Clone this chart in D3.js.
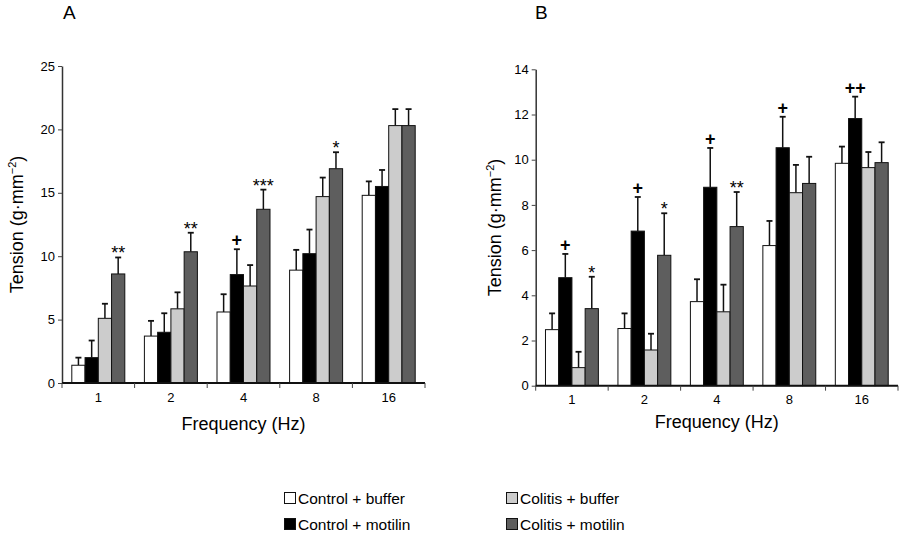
<!DOCTYPE html>
<html>
<head>
<meta charset="utf-8">
<script src="https://cdn.jsdelivr.net/npm/d3@7"></script>
<style>
  html, body { margin: 0; padding: 0; background: #fff; }
  svg { display: block; }
  text { font-family: "Liberation Sans", Arial, sans-serif; fill: #000; }
</style>
</head>
<body>
<svg id="chart" width="900" height="540"></svg>
<script>
// ---------- DATA ----------
const categories = ["1", "2", "4", "8", "16"];
const seriesNames = ["Control + buffer", "Control + motilin", "Colitis + buffer", "Colitis + motilin"];
const seriesColors = ["#ffffff", "#000000", "#cccccc", "#5e5e5e"];

// Panel A means and SEM (upward error)
const aControlBuffer   = [1.4, 3.7, 5.6, 8.9, 14.8];
const aControlMotilin  = [2.0, 4.0, 8.55, 10.2, 15.5];
const aColitisBuffer   = [5.1, 5.85, 7.65, 14.7, 20.3];
const aColitisMotilin  = [8.6, 10.35, 13.7, 16.9, 20.3];
const aErrControlBuffer  = [0.6, 1.2, 1.4, 1.6, 1.1];
const aErrControlMotilin = [1.35, 1.5, 2.0, 1.9, 1.3];
const aErrColitisBuffer  = [1.15, 1.3, 1.65, 1.5, 1.3];
const aErrColitisMotilin = [1.3, 1.5, 1.55, 1.3, 1.3];
const aYTicks = [0, 5, 10, 15, 20, 25];
// annotations: [categoryIndex, seriesIndex, label]
const aMarks = [[0, 3, "**"], [1, 3, "**"], [2, 1, "+"], [2, 3, "***"], [3, 3, "*"]];

// Panel B
const bControlBuffer   = [2.48, 2.53, 3.72, 6.2, 9.84];
const bControlMotilin  = [4.78, 6.84, 8.78, 10.53, 11.82];
const bColitisBuffer   = [0.8, 1.58, 3.27, 8.54, 9.65];
const bColitisMotilin  = [3.41, 5.77, 7.04, 8.95, 9.87];
const bErrControlBuffer  = [0.72, 0.67, 0.99, 1.09, 0.74];
const bErrControlMotilin = [1.05, 1.51, 1.74, 1.37, 0.97];
const bErrColitisBuffer  = [0.7, 0.72, 1.2, 1.23, 0.69];
const bErrColitisMotilin = [1.41, 1.86, 1.53, 1.18, 0.9];
const bYTicks = [0, 2, 4, 6, 8, 10, 12, 14];
const bMarks = [[0, 1, "+"], [0, 3, "*"], [1, 1, "+"], [1, 3, "*"], [2, 1, "+"], [2, 3, "**"], [3, 1, "+"], [4, 1, "++"]];

const yTitleMain = "Tension (g·mm";
const yTitleSup = "−2";
const xTitle = "Frequency (Hz)";

// ---------- DRAW ----------
const svg = d3.select("#chart");

function panel(cfg) {
  const g = svg.append("g");
  const means = cfg.means, errs = cfg.errs;
  const x0 = d3.scaleBand().domain(categories).range([cfg.x0, cfg.x1])
    .paddingInner(0.27).paddingOuter(0.135);
  const x1 = d3.scaleBand().domain(d3.range(seriesNames.length)).range([0, x0.bandwidth()]);
  const y = d3.scaleLinear().domain([0, cfg.ymax]).range([cfg.yb, cfg.yt]);

  // y axis
  const yAxis = d3.axisLeft(y).tickValues(cfg.ticks).tickSize(4).tickPadding(3).tickSizeOuter(0);
  const ya = g.append("g").attr("transform", `translate(${cfg.x0},0)`).call(yAxis);
  ya.attr("font-size", 13);
  ya.select(".domain").attr("stroke", "#333").attr("stroke-width", 1.5);
  ya.selectAll(".tick line").attr("stroke", "#444");
  ya.selectAll(".tick text").attr("font-size", 13).attr("fill", "#000")
    .style("font-family", '"Liberation Sans", Arial, sans-serif');

  // bars
  const data = [];
  categories.forEach((c, ci) => {
    seriesNames.forEach((s, si) => {
      data.push({ c, ci, si, v: means[si][ci], e: errs[si][ci] });
    });
  });
  const bx = d => x0(d.c) + x1(d.si);
  const bw = x1.bandwidth();

  // error bars
  g.selectAll("line.err").data(data).enter().append("line")
    .attr("x1", d => bx(d) + bw / 2).attr("x2", d => bx(d) + bw / 2)
    .attr("y1", d => y(d.v)).attr("y2", d => y(d.v + d.e))
    .attr("stroke", "#111").attr("stroke-width", 1.5);
  g.selectAll("line.cap").data(data).enter().append("line")
    .attr("x1", d => bx(d) + bw / 2 - 3).attr("x2", d => bx(d) + bw / 2 + 3)
    .attr("y1", d => y(d.v + d.e)).attr("y2", d => y(d.v + d.e))
    .attr("stroke", "#111").attr("stroke-width", 1.8);

  g.selectAll("rect.bar").data(data).enter().append("rect")
    .attr("x", d => bx(d)).attr("width", bw)
    .attr("y", d => y(d.v)).attr("height", d => y(0) - y(d.v))
    .attr("fill", d => seriesColors[d.si])
    .attr("stroke", "#111").attr("stroke-width", 1);

  // x axis
  const step = x0.step();
  const gap = (step - x0.bandwidth()) / 2;
  g.append("line").attr("x1", cfg.x0).attr("x2", cfg.x1).attr("y1", y(0)).attr("y2", y(0))
    .attr("stroke", "#111").attr("stroke-width", 2);
  const bounds = categories.map(c => x0(c) - gap).concat([x0(categories[categories.length - 1]) + x0.bandwidth() + gap]);
  g.selectAll("line.xt").data(bounds).enter().append("line")
    .attr("x1", d => d).attr("x2", d => d).attr("y1", y(0)).attr("y2", y(0) + 5)
    .attr("stroke", "#444").attr("stroke-width", 1);
  g.selectAll("text.xl").data(categories).enter().append("text")
    .attr("x", c => x0(c) + x0.bandwidth() / 2).attr("y", y(0) + 18.5)
    .attr("text-anchor", "middle").attr("font-size", 13).text(c => c);

  // significance marks
  const isPlus = m => m[2].indexOf("+") >= 0;
  g.selectAll("text.mark").data(cfg.marks).enter().append("text")
    .attr("x", m => x0(categories[m[0]]) + x1(m[1]) + bw / 2)
    .attr("y", m => y(means[m[1]][m[0]] + errs[m[1]][m[0]]) + (isPlus(m) ? -3 : 2))
    .attr("text-anchor", "middle")
    .attr("font-size", m => isPlus(m) ? 18 : 18)
    .attr("font-weight", m => isPlus(m) ? "bold" : "normal")
    .text(m => m[2]);

  // axis titles
  const yt = g.append("text")
    .attr("transform", `translate(${cfg.ytx},${(cfg.yt + cfg.yb) / 2}) rotate(-90)`)
    .attr("text-anchor", "middle").attr("font-size", 18);
  yt.append("tspan").text(yTitleMain);
  yt.append("tspan").attr("font-size", 11).attr("dy", -7).text(yTitleSup);
  yt.append("tspan").attr("dy", 7).text(")");

  g.append("text").attr("x", (cfg.x0 + cfg.x1) / 2).attr("y", cfg.xty)
    .attr("text-anchor", "middle").attr("font-size", 18).text(xTitle);

  g.append("text").attr("x", cfg.lx).attr("y", 18.5).attr("font-size", 19).text(cfg.letter);
}

panel({
  letter: "A", lx: 63,
  means: [aControlBuffer, aControlMotilin, aColitisBuffer, aColitisMotilin],
  errs: [aErrControlBuffer, aErrControlMotilin, aErrColitisBuffer, aErrColitisMotilin],
  ticks: aYTicks, ymax: 25, marks: aMarks,
  x0: 62, x1: 425, yt: 66, yb: 383, ytx: 23, xty: 430
});
panel({
  letter: "B", lx: 535,
  means: [bControlBuffer, bControlMotilin, bColitisBuffer, bColitisMotilin],
  errs: [bErrControlBuffer, bErrControlMotilin, bErrColitisBuffer, bErrColitisMotilin],
  ticks: bYTicks, ymax: 14, marks: bMarks,
  x0: 535.7, x1: 898, yt: 69.3, yb: 385.7, ytx: 501, xty: 427.5
});

// legend
const legendPos = [[284, 492], [284, 518], [506, 492], [506, 518]];
const lg = svg.append("g");
seriesNames.forEach((s, i) => {
  const [lx, ly] = legendPos[i];
  lg.append("rect").attr("x", lx + 0.5).attr("y", ly + 0.5).attr("width", 11).attr("height", 11)
    .attr("fill", seriesColors[i]).attr("stroke", "#111").attr("stroke-width", 1);
  lg.append("text").attr("x", lx + 14).attr("y", ly + 11.5).attr("font-size", 15.5).text(s);
});
</script>
</body>
</html>
